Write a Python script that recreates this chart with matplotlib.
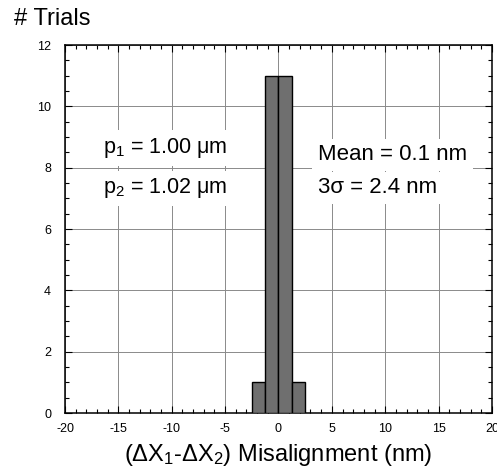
import matplotlib
matplotlib.use("Agg")
import matplotlib.pyplot as plt
import numpy as np

plt.rcParams['font.family'] = ['Liberation Sans', 'DejaVu Sans']
plt.rcParams['mathtext.fontset'] = 'custom'
plt.rcParams['mathtext.rm'] = 'Liberation Sans'
plt.rcParams['mathtext.it'] = 'Liberation Sans:italic'
plt.rcParams['axes.unicode_minus'] = False

# Data
bin_edges = [-2.5, -1.25, 0.0, 1.25, 2.5]
counts = [1, 11, 11, 1]
x_ticks = [-20, -15, -10, -5, 0, 5, 10, 15, 20]
y_ticks = [0, 2, 4, 6, 8, 10, 12]

fig = plt.figure(figsize=(4.97, 4.75), dpi=100)
ax = fig.add_axes([0.1308, 0.1305, 0.859, 0.7745])

edges = np.array(bin_edges)
ax.bar(edges[:-1], counts, width=np.diff(edges), align='edge',
       color='#6f6f6f', edgecolor='black', linewidth=1.0, zorder=3)

ax.set_xlim(-20, 20)
ax.set_ylim(0, 12)
ax.set_xticks(x_ticks)
ax.set_xticklabels([str(v) for v in x_ticks])
ax.set_yticks(y_ticks)
ax.set_yticklabels([str(v) for v in y_ticks])
ax.set_xticks(np.arange(-20, 21, 1), minor=True)
ax.set_yticks(np.arange(0, 12.01, 0.5), minor=True)
ax.tick_params(which='both', direction='in', top=True, right=True,
               labelsize=9, width=0.8)
ax.tick_params(axis='x', which='major', pad=7)
ax.tick_params(axis='y', which='major', pad=10)
ax.tick_params(which='major', length=5)
ax.tick_params(which='minor', length=3)
ax.grid(True, which='major', color='#8a8a8a', linewidth=0.7, zorder=0)
ax.set_axisbelow(True)
for s in ax.spines.values():
    s.set_linewidth(1.1)

bb = dict(facecolor='white', edgecolor='none', pad=4)
ax.text(-16.45, 8.48, r'p$_1$ = 1.00 μm', fontsize=15.5, bbox=bb, zorder=4)
ax.text(-16.45, 7.17, r'p$_2$ = 1.02 μm', fontsize=15.5, bbox=bb, zorder=4)
ax.text(3.7, 8.25, 'Mean = 0.1 nm', fontsize=16, bbox=bb, zorder=4)
ax.text(3.7, 7.17, '3σ = 2.4 nm', fontsize=16, bbox=bb, zorder=4)

fig.text(0.028, 0.948, '# Trials', fontsize=17)
ax.set_xlabel(r'(ΔX$_1$-ΔX$_2$) Misalignment (nm)', fontsize=17, labelpad=5)

fig.savefig('out.png', dpi=100)
